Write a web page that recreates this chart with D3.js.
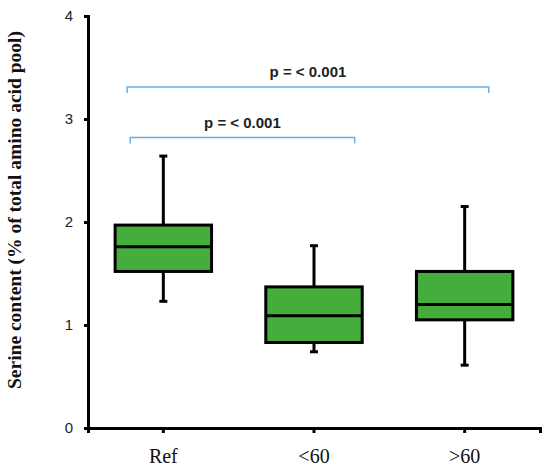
<!DOCTYPE html>
<html>
<head>
<meta charset="utf-8">
<script src="https://cdn.jsdelivr.net/npm/d3@7"></script>
<style>
  body { margin: 0; background: #fff; }
  svg { display: block; }
</style>
</head>
<body>
<div id="chart"></div>
<script>
// data
var groups = ["Ref", "<60", ">60"];
var whiskerLow = [1.23, 0.74, 0.61];
var q1 = [1.52, 0.83, 1.05];
var medians = [1.76, 1.09, 1.20];
var q3 = [1.97, 1.37, 1.52];
var whiskerHigh = [2.64, 1.77, 2.15];
var yTicks = [0, 1, 2, 3, 4];

// significance brackets: from / to in category index units, height in data units
var bracketFrom = [-0.24, -0.22];
var bracketTo = [2.16, 1.27];
var bracketY = [3.31, 2.82];
var bracketText = ["p = < 0.001", "p = < 0.001"];

var width = 550, height = 471;

var svg = d3.select("#chart").append("svg")
  .attr("width", width)
  .attr("height", height);

var x = d3.scaleBand().domain(groups).range([88, 540]);
var y = d3.scaleLinear().domain([0, 4]).range([428, 16]);
// continuous version of the x positions for the brackets
var xi = d3.scaleLinear().domain([0, 1]).range([x(groups[0]) + x.bandwidth() / 2, x(groups[1]) + x.bandwidth() / 2]);

var boxW = x.step() * 0.64;
var capW = 8;

var boxes = groups.map(function(g, i) {
  return { g: g, lo: whiskerLow[i], q1: q1[i], med: medians[i], q3: q3[i], hi: whiskerHigh[i] };
});

// whiskers first so the box covers them
var wg = svg.append("g");
boxes.forEach(function(d) {
  var cx = x(d.g) + x.bandwidth() / 2;
  wg.append("line").attr("x1", cx).attr("x2", cx).attr("y1", y(d.hi)).attr("y2", y(d.q3))
    .attr("stroke", "#000").attr("stroke-width", 3);
  wg.append("line").attr("x1", cx).attr("x2", cx).attr("y1", y(d.q1)).attr("y2", y(d.lo))
    .attr("stroke", "#000").attr("stroke-width", 3);
  wg.append("line").attr("x1", cx - capW / 2).attr("x2", cx + capW / 2).attr("y1", y(d.hi)).attr("y2", y(d.hi))
    .attr("stroke", "#000").attr("stroke-width", 3);
  wg.append("line").attr("x1", cx - capW / 2).attr("x2", cx + capW / 2).attr("y1", y(d.lo)).attr("y2", y(d.lo))
    .attr("stroke", "#000").attr("stroke-width", 3);
});

svg.append("g").selectAll("rect")
  .data(boxes)
  .enter()
  .append("rect")
  .attr("x", d => x(d.g) + x.bandwidth() / 2 - boxW / 2)
  .attr("y", d => y(d.q3))
  .attr("width", boxW)
  .attr("height", d => y(d.q1) - y(d.q3))
  .attr("fill", "#44ad3b")
  .attr("stroke", "#000")
  .attr("stroke-width", 3);

svg.append("g").selectAll("line")
  .data(boxes)
  .enter()
  .append("line")
  .attr("x1", d => x(d.g) + x.bandwidth() / 2 - boxW / 2)
  .attr("x2", d => x(d.g) + x.bandwidth() / 2 + boxW / 2)
  .attr("y1", d => y(d.med))
  .attr("y2", d => y(d.med))
  .attr("stroke", "#000")
  .attr("stroke-width", 3);

// axes
var xAxis = d3.axisBottom(x).tickSize(5).tickSizeOuter(5).tickPadding(16);
var yAxis = d3.axisLeft(y).tickValues(yTicks).tickFormat(d3.format("d")).tickSize(4).tickSizeOuter(4).tickPadding(11);

var xg = svg.append("g")
  .attr("transform", "translate(0," + y(0) + ")")
  .call(xAxis);
xg.selectAll("path, line").attr("stroke", "#000").attr("stroke-width", 3);
xg.selectAll("text")
  .attr("font-family", "'Liberation Serif', 'Times New Roman', serif")
  .attr("font-size", "20px")
  .attr("fill", "#111");

var yg = svg.append("g")
  .attr("transform", "translate(" + x.range()[0] + ",0)")
  .call(yAxis);
yg.selectAll("path, line").attr("stroke", "#000").attr("stroke-width", 3);
yg.selectAll("text")
  .attr("font-family", "'Liberation Sans', Arial, sans-serif")
  .attr("font-size", "15px")
  .attr("fill", "#222");

// y axis title
svg.append("text")
  .attr("transform", "translate(21," + ((y(0) + y(4)) / 2 - 12) + ") rotate(-90)")
  .attr("text-anchor", "middle")
  .attr("font-family", "'Liberation Serif', 'Times New Roman', serif")
  .attr("font-weight", "bold")
  .attr("font-size", "19.5px")
  .attr("fill", "#111")
  .text("Serine content (% of total amino acid pool)");

// significance brackets
var bg = svg.append("g");
bracketY.forEach(function(v, i) {
  var x1 = xi(bracketFrom[i]), x2 = xi(bracketTo[i]), yy = y(v);
  bg.append("path")
    .attr("d", "M" + x1 + "," + (yy + 6) + "V" + yy + "H" + x2 + "V" + (yy + 6))
    .attr("fill", "none")
    .attr("stroke", "#6aaee8")
    .attr("stroke-width", 1.5);
  bg.append("text")
    .attr("x", (x1 + x2) / 2)
    .attr("y", yy - 10)
    .attr("text-anchor", "middle")
    .attr("font-family", "'Liberation Sans', Arial, sans-serif")
    .attr("font-weight", "bold")
    .attr("font-size", "15px")
    .attr("fill", "#222")
    .text(bracketText[i]);
});
</script>
</body>
</html>
